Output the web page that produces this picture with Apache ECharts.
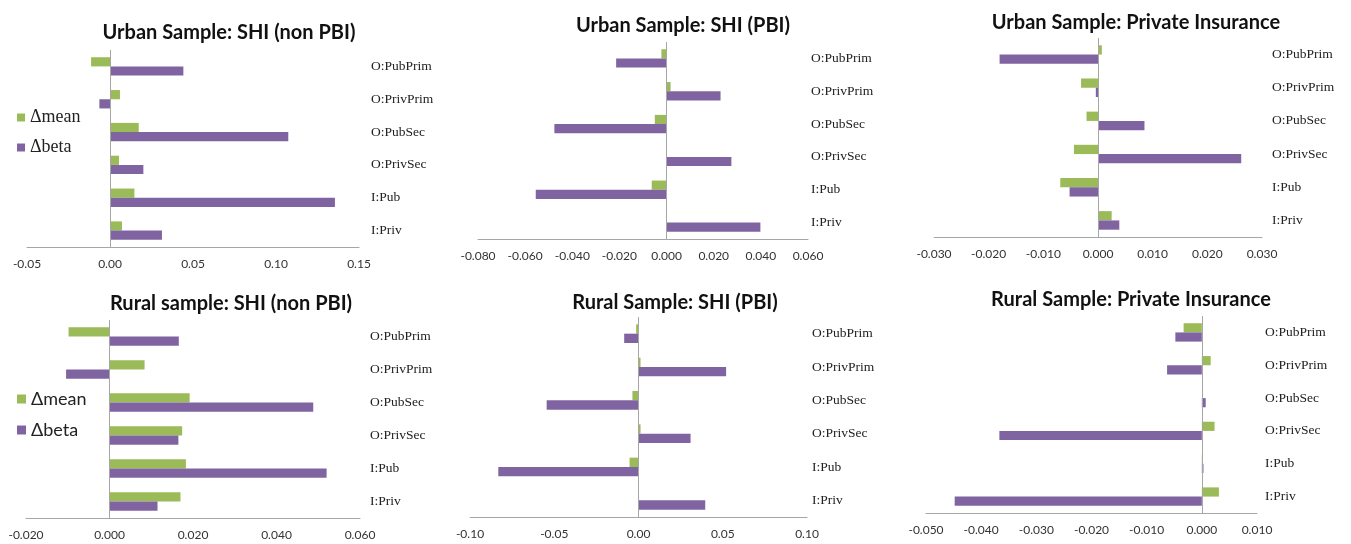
<!DOCTYPE html>
<html>
<head>
<meta charset="utf-8">
<script src="https://cdn.jsdelivr.net/npm/echarts@6/dist/echarts.min.js"></script>
<style>
html,body{margin:0;padding:0;background:#fff;}
#chart{width:1351px;height:544px;}
</style>
</head>
<body>
<div id="chart"></div>
<script>
// Categories (top to bottom as displayed)
const categories = ['O:PubPrim', 'O:PrivPrim', 'O:PubSec', 'O:PrivSec', 'I:Pub', 'I:Priv'];
const seriesNames = ['\u0394mean', '\u0394beta'];

const titles = [
  'Urban Sample: SHI (non PBI)',
  'Urban Sample: SHI (PBI)',
  'Urban Sample: Private Insurance',
  'Rural sample: SHI (non PBI)',
  'Rural Sample: SHI (PBI)',
  'Rural Sample: Private Insurance'
];

// Urban Sample: SHI (non PBI)
const urbanNonPbiMean = [-0.0114, 0.0060, 0.0173, 0.0054, 0.0147, 0.0072];
const urbanNonPbiBeta = [0.0442, -0.0064, 0.1074, 0.0201, 0.1355, 0.0313];
// Urban Sample: SHI (PBI)
const urbanPbiMean = [-0.0022, 0.0017, -0.0050, -0.0002, -0.0063, -0.0001];
const urbanPbiBeta = [-0.0214, 0.0229, -0.0476, 0.0275, -0.0555, 0.0398];
// Urban Sample: Private Insurance
const urbanPrivMean = [0.0007, -0.0031, -0.0021, -0.0044, -0.0069, 0.0025];
const urbanPrivBeta = [-0.0180, -0.0004, 0.0085, 0.0262, -0.0052, 0.0039];
// Rural sample: SHI (non PBI)
const ruralNonPbiMean = [-0.0098, 0.0084, 0.0192, 0.0174, 0.0183, 0.0170];
const ruralNonPbiBeta = [0.0166, -0.0104, 0.0488, 0.0165, 0.0520, 0.0115];
// Rural Sample: SHI (PBI)
const ruralPbiMean = [-0.0014, 0.0012, -0.0036, 0.0012, -0.0053, 0.0003];
const ruralPbiBeta = [-0.0085, 0.0520, -0.0545, 0.0309, -0.0832, 0.0396];
// Rural Sample: Private Insurance
const ruralPrivMean = [-0.0033, 0.0016, 0.0000, 0.0023, 0.0001, 0.0031];
const ruralPrivBeta = [-0.0048, -0.0063, 0.0007, -0.0367, 0.0003, -0.0448];

// Axis ranges: [min, max, interval, decimals]
const xRanges = [
  [-0.05, 0.15, 0.05, 2],
  [-0.08, 0.06, 0.02, 3],
  [-0.03, 0.03, 0.01, 3],
  [-0.02, 0.06, 0.02, 3],
  [-0.10, 0.10, 0.05, 2],
  [-0.05, 0.01, 0.01, 3]
];

const meanData = [urbanNonPbiMean, urbanPbiMean, urbanPrivMean, ruralNonPbiMean, ruralPbiMean, ruralPrivMean];
const betaData = [urbanNonPbiBeta, urbanPbiBeta, urbanPrivBeta, ruralNonPbiBeta, ruralPbiBeta, ruralPrivBeta];

// Layout (pixels)
const grids = [
  {left: 27,  top: 50,  width: 332, height: 197},
  {left: 478, top: 42,  width: 330, height: 197},
  {left: 934, top: 38,  width: 328, height: 199},
  {left: 26,  top: 320, width: 334, height: 198},
  {left: 470, top: 317, width: 337, height: 200},
  {left: 926, top: 316, width: 331, height: 197}
];
const catMargins = [12, 3, 10, 10, 5, 8];
const titlePos = [
  {x: 224, y: 18}, {x: 678, y: 11}, {x: 1131, y: 8},
  {x: 226, y: 289}, {x: 670, y: 288}, {x: 1126, y: 285}
];

const GREEN = '#9BBB59';
const PURPLE = '#8064A2';
const AXIS_GRAY = '#A6A6A6';

const option = {
  backgroundColor: '#ffffff',
  animation: false,
  title: titles.map((t, i) => ({
    text: t,
    left: titlePos[i].x,
    top: titlePos[i].y,
    textAlign: 'center',
    textStyle: {fontFamily: 'Lato', fontWeight: 'bold', fontSize: 20, color: '#111'}
  })),
  legend: [
    {
      data: seriesNames, orient: 'vertical', left: 12, top: 103,
      icon: 'rect', itemWidth: 8, itemHeight: 8, itemGap: 11,
      textStyle: {fontFamily: 'Liberation Serif', fontSize: 18, color: '#222', lineHeight: 19}
    },
    {
      data: seriesNames, orient: 'vertical', left: 12, top: 384,
      icon: 'rect', itemWidth: 9, itemHeight: 9, itemGap: 11,
      textStyle: {fontFamily: 'Lato', fontSize: 18, color: '#222', lineHeight: 20}
    }
  ],
  grid: grids.map(g => ({left: g.left, top: g.top, width: g.width, height: g.height, containLabel: false})),
  xAxis: xRanges.map((r, i) => ({
    type: 'value', gridIndex: i, min: r[0], max: r[1], interval: r[2],
    axisLine: {show: true, onZero: false, lineStyle: {color: AXIS_GRAY, width: 1}},
    axisTick: {show: false},
    splitLine: {show: false},
    axisLabel: {
      margin: 11, color: '#333', fontFamily: 'Lato', fontSize: 12,
      formatter: v => v.toFixed(r[3])
    }
  })),
  yAxis: grids.map((g, i) => ({
    type: 'category', gridIndex: i, data: categories, inverse: true, position: 'right',
    axisLine: {show: false}, axisTick: {show: false}, splitLine: {show: false},
    axisLabel: {margin: catMargins[i], color: '#222', fontFamily: 'Liberation Serif', fontSize: 13.5}
  })),
  series: []
};

for (let i = 0; i < 6; i++) {
  option.series.push({
    name: seriesNames[0], type: 'bar', xAxisIndex: i, yAxisIndex: i,
    data: meanData[i], itemStyle: {color: GREEN},
    barGap: '0%', barCategoryGap: '44%'
  });
  option.series.push({
    name: seriesNames[1], type: 'bar', xAxisIndex: i, yAxisIndex: i,
    data: betaData[i], itemStyle: {color: PURPLE},
    barGap: '0%', barCategoryGap: '44%',
    markLine: {
      silent: true, symbol: 'none', label: {show: false},
      lineStyle: {color: AXIS_GRAY, width: 1, type: 'solid'},
      data: [{xAxis: 0}]
    }
  });
}

const chart = echarts.init(document.getElementById('chart'), null, {renderer: 'canvas'});
chart.setOption(option);
</script>
</body>
</html>
